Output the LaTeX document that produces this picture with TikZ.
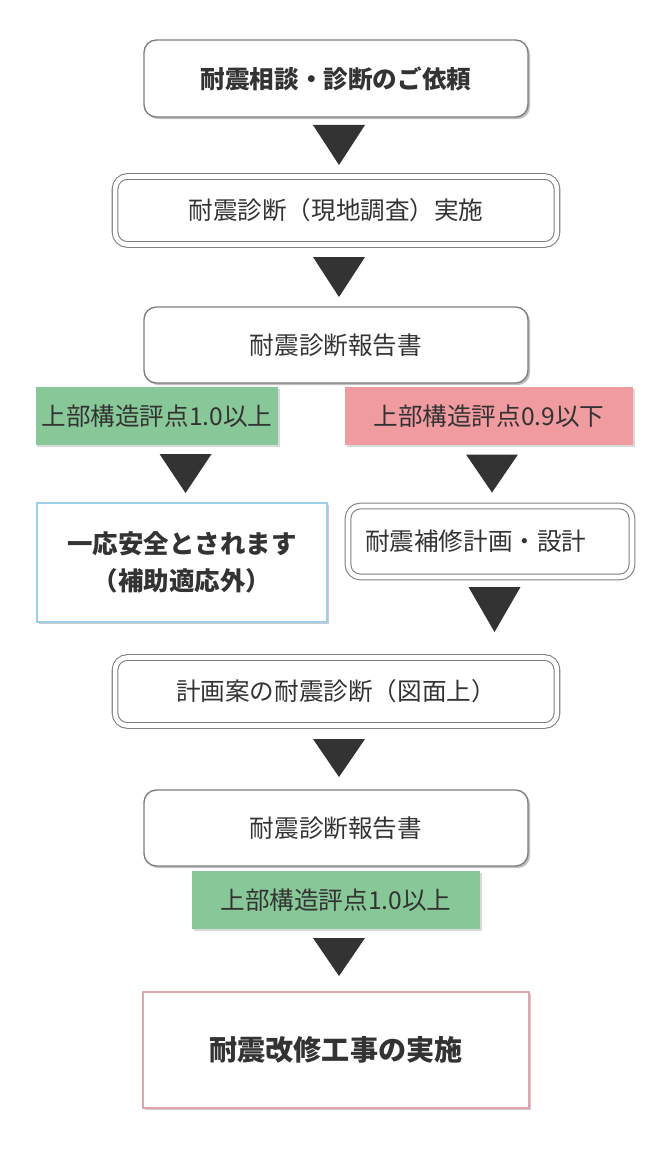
\documentclass[tikz,border=0pt]{standalone}
\usepackage{fontspec}
\setmainfont{Noto Sans CJK JP}
\usepackage{tikz}
\usetikzlibrary{shadows}
\usetikzlibrary{calc}
\definecolor{txtgray}{HTML}{333333}
\definecolor{boxgray}{HTML}{7F7F7F}
\definecolor{okgreen}{HTML}{88C898}
\definecolor{ngred}{HTML}{F09BA0}
\definecolor{safeblue}{HTML}{9DCFE6}
\definecolor{workpink}{HTML}{E3A3AD}
\definecolor{tridark}{HTML}{333333}
\tikzset{stepbox/.style={rectangle, rounded corners=7pt, draw=boxgray, fill=white, thick,
    text=txtgray, font=\fontsize{14pt}{17pt}\selectfont,
    drop shadow={shadow xshift=1.2pt, shadow yshift=-1.2pt, fill=black, opacity=.25}}}
\tikzset{dblbox/.style={stepbox, draw=boxgray, double=white, double distance=2.6pt, line width=.6pt}}
\tikzset{scorebox/.style={rectangle, text=txtgray, font=\fontsize{14pt}{17pt}\selectfont,
    minimum height=1.16cm,
    drop shadow={shadow xshift=1pt, shadow yshift=-1pt, fill=black, opacity=.15}}}
\tikzset{plainbox/.style={rectangle, fill=white, thick, text=txtgray,
    drop shadow={shadow xshift=1.2pt, shadow yshift=-1.2pt, fill=black, opacity=.2}}}

\begin{document}
\begin{tikzpicture}[x=0.02cm,y=-0.02cm]
  \useasboundingbox (0,0) rectangle (661,1152);
  \fill[white] (0,0) rectangle (661,1152);
  % main flow
  \node[stepbox, minimum width=7.68cm, minimum height=1.54cm, font=\fontsize{14pt}{17pt}\selectfont\bfseries]
    (request) at (336,78.5) {耐震相談・診断のご依頼};
  \node[dblbox, minimum width=8.84cm, minimum height=1.36cm]
    (survey) at (336,210.5) {耐震診断（現地調査）実施};
  \node[stepbox, minimum width=7.68cm, minimum height=1.52cm]
    (report) at (336,345) {耐震診断報告書};
  % branches
  \node[scorebox, fill=okgreen, minimum width=4.84cm] (okscore) at (157,416) {上部構造評点1.0以上};
  \node[scorebox, fill=ngred, minimum width=5.76cm] (ngscore) at (489,416) {上部構造評点0.9以下};
  \node[plainbox, draw=safeblue, minimum width=5.8cm, minimum height=2.38cm, align=center]
    (safe) at (182,562.5) {\fontsize{14.5pt}{18pt}\selectfont\bfseries 一応安全とされます\\[6pt]
    \fontsize{14.5pt}{18pt}\selectfont\bfseries （補助適応外）};
  \node[dblbox, text width=5.0cm, inner xsep=0.34cm, minimum height=1.42cm, align=left]
    (design) at (490,541.5) {耐震補修計画・設計};
  % after design
  \node[dblbox, minimum width=8.84cm, minimum height=1.36cm]
    (plancheck) at (336,691.5) {計画案の耐震診断（図面上）};
  \node[stepbox, minimum width=7.68cm, minimum height=1.52cm]
    (report2) at (336,828) {耐震診断報告書};
  \node[scorebox, fill=okgreen, minimum width=5.76cm] (okscore2) at (336,900) {上部構造評点1.0以上};
  \node[plainbox, draw=workpink, minimum width=7.72cm, minimum height=2.32cm,
    font=\fontsize{16pt}{19pt}\selectfont\bfseries]
    (works) at (336,1050) {耐震改修工事の実施};
  % down triangles
  \foreach \x/\y/\h in {
    339/145/20,
    339/277/20,
    185.5/473.5/19.5,
    492/473.5/19,
    494.5/609.5/22.5,
    339/758/19,
    339/957/19%
  } {
    \fill[tridark] (\x-26,\y-\h) -- (\x+26,\y-\h) -- (\x,\y+\h) -- cycle;
  }
\end{tikzpicture}
\end{document}
